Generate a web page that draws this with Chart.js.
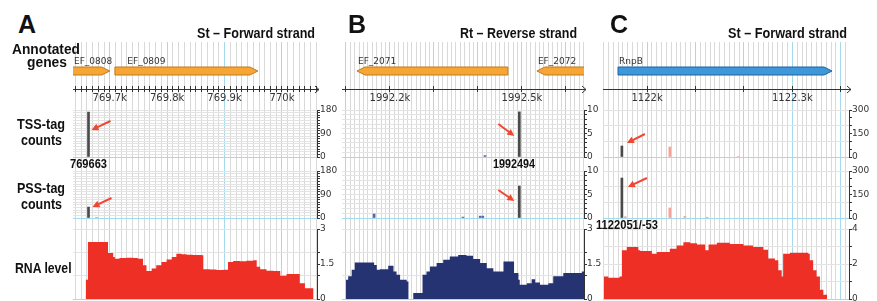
<!DOCTYPE html>
<html><head><meta charset="utf-8">
<script src="https://cdn.jsdelivr.net/npm/chart.js@4.4.1/dist/chart.umd.min.js"></script>
<style>
html,body{margin:0;padding:0;background:#fff;overflow:hidden;width:877px;height:301px;}
#root{position:relative;width:877px;height:301px;overflow:hidden;background:#fff;}
canvas{position:absolute;}
.t{position:absolute;white-space:nowrap;font-family:"Liberation Sans",Arial,sans-serif;font-weight:bold;color:#111;transform-origin:0 0;}
</style></head><body><div id="root"></div>
<script>
// ================= DATA =================
const panelLetters = ['A', 'B', 'C'];
const panelTitles = ['St \u2013 Forward strand', 'Rt \u2013 Reverse strand', 'St \u2013 Forward strand'];
const trackLabelLines = ['Annotated', 'genes', 'TSS-tag', 'counts', 'PSS-tag', 'counts', 'RNA level'];
const siteLabels = ['769663', '1992494', '1122051/-53'];

// visible genomic windows
const rangeA = [769636, 770061];
const rangeB = [1992091, 1992641];
const rangeC = [1121909, 1122417];

// ruler tick labels
const rulerLabelsA = [769700, 769800, 769900, 770000];
const rulerLabelsB = [1992200, 1992500];
const rulerLabelsC = [1122000, 1122300];

// annotated genes
const geneNamesA = ['EF_0808', 'EF_0809'];
const geneStartsA = [769400, 769709];
const geneEndsA = [769700, 769958];
const geneStrandsA = ['+', '+'];
const geneNamesB = ['EF_2071', 'EF_2072'];
const geneStartsB = [1992125, 1992534];
const geneEndsB = [1992468, 1992800];
const geneStrandsB = ['-', '-'];
const geneNamesC = ['RnpB'];
const geneStartsC = [1121940];
const geneEndsC = [1122382];
const geneStrandsC = ['+'];

// TSS / PSS tag counts
const tssPosA = [769663];
const tssValA = [172];
const pssPosA = [769663, 769677];
const pssValA = [42, 2];
const tssPosB = [1992416, 1992494];
const tssValB = [0.3, 9.6];
const pssPosB = [1992164, 1992366, 1992405, 1992411, 1992494];
const pssValB = [0.85, 0.2, 0.4, 0.4, 6.8];
const tssPosC = [1121948, 1122047, 1122188];
const tssValC = [70, 64, 3];
const pssPosC = [1121948, 1121955, 1122047, 1122078, 1122124];
const pssValC = [255, 8, 64, 10, 5];

// count axis tick labels
const countLabelsA = [0, 90, 180];
const countLabelsB = [0, 5, 10];
const countLabelsC = [0, 150, 300];

// RNA level profiles (value holds from position to next position)
const rnaPosA = [769658, 769662, 769697, 769706, 769709, 769717, 769729, 769741, 769749, 769758, 769764, 769773, 769781, 769790, 769799, 769808, 769816, 769825, 769834, 769845, 769860, 769863, 769874, 769886, 769898, 769906, 769915, 769927, 769938, 769950, 769956, 769962, 769973, 769985, 769997, 770008, 770020, 770031, 770040, 770055];
const rnaValA = [0.82, 2.44, 1.97, 1.80, 1.73, 1.76, 1.77, 1.76, 1.73, 1.45, 1.20, 1.31, 1.45, 1.59, 1.69, 1.80, 1.94, 1.92, 1.90, 1.89, 1.87, 1.27, 1.26, 1.24, 1.25, 1.59, 1.63, 1.62, 1.64, 1.66, 1.38, 1.27, 1.21, 1.20, 1.00, 1.07, 1.07, 0.68, 0.46, 0];
const rnaPosB = [1992100, 1992105, 1992113, 1992120, 1992164, 1992170, 1992177, 1992196, 1992208, 1992215, 1992223, 1992238, 1992242, 1992253, 1992274, 1992283, 1992291, 1992306, 1992321, 1992336, 1992355, 1992374, 1992389, 1992405, 1992420, 1992435, 1992458, 1992482, 1992492, 1992495, 1992511, 1992522, 1992530, 1992541, 1992560, 1992571, 1992594, 1992617, 1992636, 1992641];
const rnaValB = [0.82, 0.97, 1.25, 1.56, 1.46, 1.25, 1.28, 1.42, 1.18, 1.04, 0.82, 0.75, 0, 0.26, 1.04, 1.18, 1.39, 1.54, 1.68, 1.82, 1.89, 1.85, 1.71, 1.54, 1.32, 1.18, 1.61, 1.11, 0.82, 0.61, 0.68, 0.85, 0.71, 0.61, 0.68, 0.97, 1.11, 1.11, 1.18, 1.18];
const rnaPosC = [1121911, 1121920, 1121943, 1121948, 1121958, 1121982, 1121986, 1122010, 1122020, 1122047, 1122061, 1122075, 1122089, 1122103, 1122120, 1122127, 1122144, 1122171, 1122199, 1122219, 1122240, 1122250, 1122264, 1122271, 1122278, 1122281, 1122295, 1122333, 1122336, 1122343, 1122350, 1122357, 1122364, 1122372];
const rnaValC = [1.28, 1.22, 1.28, 2.78, 2.97, 2.78, 2.74, 2.59, 2.69, 2.87, 3.06, 3.25, 3.19, 3.12, 2.78, 3.12, 3.21, 3.15, 3.06, 2.97, 2.82, 2.31, 2.22, 1.65, 1.28, 2.59, 2.65, 2.59, 2.22, 1.65, 1.28, 0.53, 0.24, 0];
const rnaLabelsA = [0, 1.5, 3];
const rnaLabelsB = [0, 1.5, 3];
const rnaLabelsC = [0, 2, 4];

// ================= STYLE / LAYOUT =================
const BLUE = '#a4d9ee', VGRAY = '#d9d9d9', HGRAY = '#e3e3e3', AXIS = '#333', NONE = 'rgba(0,0,0,0)';
const TICKFONT = {family: 'DejaVu Sans', size: 9};
const root = document.getElementById('root');

const panels = [
  {left: 73, width: 244, range: rangeA, rulerStep: 10, rulerLabels: rulerLabelsA,
   genes: [geneNamesA, geneStartsA, geneEndsA, geneStrandsA], geneFill: '#f7a535', geneStroke: '#c07a1c',
   tss: [tssPosA, tssValA], pss: [pssPosA, pssValA], countMax: 180, countStep: 10, countGrid: 10, countLabels: countLabelsA, minor: '#f07c72',
   rna: [rnaPosA, rnaValA], rnaMax: 3, rnaStep: 0.5, rnaMarks: [0, 1, 1.5, 2, 3], rnaLabels: rnaLabelsA, rnaColor: '#ee2f25',
   tssArrow: [3, 20, 22, 11], pssArrow: [4, 36, 23, 27]},
  {left: 342, width: 242, range: rangeB, rulerStep: 100, rulerLabels: rulerLabelsB,
   genes: [geneNamesB, geneStartsB, geneEndsB, geneStrandsB], geneFill: '#f7a535', geneStroke: '#c07a1c',
   tss: [tssPosB, tssValB], pss: [pssPosB, pssValB], countMax: 10, countStep: 1, countGrid: 1, countLabels: countLabelsB, minor: '#5566aa',
   rna: [rnaPosB, rnaValB], rnaMax: 3, rnaStep: 0.5, rnaMarks: [0, 1, 1.5, 2, 3], rnaLabels: rnaLabelsB, rnaColor: '#253372',
   tssArrow: [-5, 26, -21, 14], pssArrow: [-5, 30, -21, 19]},
  {left: 603, width: 246, range: rangeC, rulerStep: 100, rulerLabels: rulerLabelsC,
   genes: [geneNamesC, geneStartsC, geneEndsC, geneStrandsC], geneFill: '#3d97d9', geneStroke: '#1f63a0',
   tss: [tssPosC, tssValC], pss: [pssPosC, pssValC], countMax: 300, countStep: 50, countGrid: 100, countLabels: countLabelsC, minor: '#f5a399',
   rna: [rnaPosC, rnaValC], rnaMax: 4, rnaStep: 1, rnaMarks: [0, 1, 2, 3, 4], rnaLabels: rnaLabelsC, rnaColor: '#ee2f25',
   tssArrow: [5, 33, 23, 24], pssArrow: [6, 16, 25, 7]}
];

const TSS_TOP = 110, PSS_TOP = 171, COUNT_H = 47, RNA_TOP = 229, RNA_H = 70;

function stepTicks(lo, hi, step) {
  const out = [];
  const s = Math.ceil(lo / step - 1e-9), e = Math.floor(hi / step + 1e-9);
  for (let i = s; i <= e; i++) out.push(Math.round(i * step * 1000) / 1000);
  return out;
}
function mkCanvas(left, top, w, h) {
  const c = document.createElement('canvas');
  c.width = w; c.height = h;
  c.style.left = left + 'px'; c.style.top = top + 'px';
  c.style.width = w + 'px'; c.style.height = h + 'px';
  root.appendChild(c);
  return c;
}
const base = {animation: false, responsive: false, maintainAspectRatio: false, devicePixelRatio: 1, events: []};
const noPlug = {legend: {display: false}, tooltip: {enabled: false}};

// ---- plugins ----
const geneArrows = {
  id: 'geneArrows',
  afterDatasetsDraw(chart, args, opts) {
    const ctx = chart.ctx, ca = chart.chartArea;
    const meta = chart.getDatasetMeta(0);
    const ds = chart.data.datasets[0];
    const boxes = [];
    ctx.save();
    ctx.beginPath(); ctx.rect(ca.left, ca.top, ca.right - ca.left, ca.bottom - ca.top); ctx.clip();
    meta.data.forEach((el, i) => {
      const p = el.getProps(['x', 'base', 'y', 'height'], true);
      const l = Math.min(p.x, p.base), r = Math.max(p.x, p.base), y = p.y, h = p.height / 2, a = 8;
      ctx.beginPath();
      if (ds.strands[i] === '+') {
        ctx.moveTo(l, y - h); ctx.lineTo(r - a, y - h); ctx.lineTo(r, y); ctx.lineTo(r - a, y + h); ctx.lineTo(l, y + h);
      } else {
        ctx.moveTo(l, y); ctx.lineTo(l + a, y - h); ctx.lineTo(r, y - h); ctx.lineTo(r, y + h); ctx.lineTo(l + a, y + h);
      }
      ctx.closePath();
      ctx.fillStyle = opts.fill; ctx.fill();
      ctx.strokeStyle = opts.stroke; ctx.lineWidth = 1; ctx.stroke();
      boxes.push([l, y - h]);
    });
    ctx.restore();
    ctx.save();
    ctx.font = '9px "DejaVu Sans"'; ctx.fillStyle = '#333'; ctx.textBaseline = 'alphabetic';
    let prevEnd = -Infinity;
    boxes.forEach(([l, t], i) => {
      let x = Math.max(l, ca.left) + 1;
      if (x < prevEnd + 12) x = prevEnd + 15;
      ctx.fillText(ds.names[i], x, t - 3);
      prevEnd = x + ctx.measureText(ds.names[i]).width;
    });
    ctx.restore();
  }
};
const rulerArrow = {
  id: 'rulerArrow',
  afterDraw(chart) {
    const ctx = chart.ctx, ca = chart.chartArea;
    const y = Math.round(ca.bottom) + 0.5, r = ca.right + 2;
    ctx.save(); ctx.strokeStyle = AXIS; ctx.lineWidth = 1;
    ctx.beginPath(); ctx.moveTo(ca.right, y); ctx.lineTo(r, y);
    ctx.moveTo(r - 4, y - 3.5); ctx.lineTo(r, y); ctx.lineTo(r - 4, y + 3.5);
    ctx.stroke(); ctx.restore();
  }
};
const redArrow = {
  id: 'redArrow',
  afterDatasetsDraw(chart, args, opts) {
    const spec = opts.spec; if (!spec) return;
    const meta = chart.getDatasetMeta(0);
    const vals = chart.data.datasets[0].data.map(d => d.y);
    const k = vals.indexOf(Math.max(...vals));
    const bx = meta.data[k].x, top = chart.chartArea.top;
    const hx = bx + spec[0], hy = top + spec[1], tx = bx + spec[2], ty = top + spec[3];
    const ang = Math.atan2(hy - ty, hx - tx), L = 7, W = 3.5;
    const c = Math.cos(ang), s = Math.sin(ang);
    const ctx = chart.ctx; ctx.save();
    ctx.strokeStyle = ctx.fillStyle = '#ef4733'; ctx.lineWidth = 2;
    ctx.beginPath(); ctx.moveTo(tx, ty); ctx.lineTo(hx - L * 0.7 * c, hy - L * 0.7 * s); ctx.stroke();
    ctx.beginPath(); ctx.moveTo(hx, hy);
    ctx.lineTo(hx - L * c + W * s, hy - L * s - W * c);
    ctx.lineTo(hx - L * c - W * s, hy - L * s + W * c);
    ctx.closePath(); ctx.fill();
    ctx.restore();
  }
};

function xHidden(p) {
  return {type: 'linear', min: p.range[0], max: p.range[1], display: false, offset: false, grid: {offset: false}};
}

// ---- charts ----
panels.forEach((p, pi) => {
  // background vertical grid
  new Chart(mkCanvas(p.left, 42, p.width, 258), {
    type: 'scatter', data: {datasets: []},
    options: {...base, layout: {padding: 0}, plugins: noPlug, scales: {
      x: {type: 'linear', min: p.range[0], max: p.range[1],
          afterBuildTicks: s => { s.ticks = stepTicks(p.range[0], p.range[1], 10).map(v => ({value: v})); },
          afterFit: s => { s.height = 0; },
          ticks: {display: false}, border: {display: false},
          grid: {drawTicks: false, lineWidth: 1, color: c => (c.tick && Math.round(c.tick.value) % 100 === 0) ? BLUE : VGRAY}},
      y: {display: false, min: 0, max: 1}
    }}
  });

  // annotated genes
  const [gn, gs, ge, gst] = p.genes;
  new Chart(mkCanvas(p.left, 51, p.width, 40), {
    type: 'bar',
    data: {labels: ['genes'], datasets: [{
      data: gs.map((s, i) => ({x: [s, ge[i]], y: 'genes'})),
      names: gn, strands: gst,
      backgroundColor: NONE, borderWidth: 0, barThickness: 8
    }]},
    options: {...base, indexAxis: 'y', layout: {padding: 0},
      plugins: {...noPlug, geneArrows: {fill: p.geneFill, stroke: p.geneStroke}},
      scales: {x: xHidden(p), y: {type: 'category', display: false}}},
    plugins: [geneArrows]
  });

  // ruler
  new Chart(mkCanvas(p.left, 80, p.width + 8, 25), {
    type: 'scatter', data: {datasets: []},
    options: {...base, layout: {padding: {top: 6, right: 8, left: 0, bottom: 0}}, plugins: noPlug, scales: {
      x: {type: 'linear', min: p.range[0], max: p.range[1], position: 'bottom',
          afterBuildTicks: s => { s.ticks = stepTicks(p.range[0], p.range[1], p.rulerStep).map(v => ({value: v})); },
          afterFit: s => { s.height = 16; },
          ticks: {autoSkip: false, maxRotation: 0, minRotation: 0, padding: 0, color: '#333',
                  font: {family: 'DejaVu Sans', size: 10},
                  callback: v => p.rulerLabels.includes(Math.round(v)) ? (Math.round(v) / 1000) + 'k' : ''},
          border: {display: true, color: AXIS, width: 1},
          grid: {drawOnChartArea: true, drawTicks: true, tickLength: 3, color: AXIS, tickColor: AXIS, lineWidth: 1}},
      y: {display: false, min: 0, max: 1}
    }},
    plugins: [rulerArrow]
  });

  // TSS / PSS counts
  [[p.tss, TSS_TOP, p.tssArrow], [p.pss, PSS_TOP, p.pssArrow]].forEach(([series, top, arrow]) => {
    const [pos, val] = series;
    const mx = Math.max(...val);
    const pad = 8;
    new Chart(mkCanvas(p.left, top - pad, p.width + 26, COUNT_H + 2 * pad), {
      type: 'bar',
      data: {datasets: [{
        data: pos.map((x, i) => ({x: x, y: val[i]})),
        backgroundColor: val.map(v => v === mx ? '#4a4a4a' : p.minor),
        borderWidth: 0, barThickness: 2
      }]},
      options: {...base, layout: {padding: {top: pad, bottom: pad, left: 0, right: 0}},
        plugins: {...noPlug, redArrow: {spec: arrow}},
        scales: {
          x: xHidden(p),
          y: {type: 'linear', position: 'right', min: 0, max: p.countMax,
              afterBuildTicks: s => { s.ticks = stepTicks(0, p.countMax, p.countStep).map(v => ({value: v})); },
              afterFit: s => { s.width = 26; },
              ticks: {autoSkip: false, padding: 0, color: '#333', font: TICKFONT,
                      callback: v => p.countLabels.includes(v) ? String(v) : ''},
              border: {color: AXIS, width: 1},
              grid: {tickLength: 3, tickColor: AXIS, lineWidth: 1,
                     color: c => c.tick.value === 0 ? BLUE : (Math.round(c.tick.value) % p.countGrid === 0 ? HGRAY : NONE)}}
        }},
      plugins: [redArrow]
    });
  });

  // RNA level
  const [rp, rv] = p.rna;
  new Chart(mkCanvas(p.left, RNA_TOP - 8, p.width + 26, RNA_H + 16), {
    type: 'line',
    data: {datasets: [{
      data: rp.map((x, i) => ({x: x, y: rv[i]})),
      stepped: 'before', fill: 'origin', backgroundColor: p.rnaColor, borderColor: p.rnaColor,
      borderWidth: 0, pointRadius: 0, tension: 0
    }]},
    options: {...base, layout: {padding: {top: 8, bottom: 8, left: 0, right: 0}}, plugins: noPlug,
      scales: {
        x: xHidden(p),
        y: {type: 'linear', position: 'right', min: 0, max: p.rnaMax,
            afterBuildTicks: s => { s.ticks = stepTicks(0, p.rnaMax, p.rnaStep).map(v => ({value: v})); },
            afterFit: s => { s.width = 26; },
            ticks: {autoSkip: false, padding: 0, color: '#333', font: TICKFONT,
                    callback: v => p.rnaLabels.includes(v) ? String(v) : ''},
            border: {color: AXIS, width: 1},
            grid: {tickLength: 3, lineWidth: 1,
                   tickColor: c => p.rnaMarks.includes(c.tick.value) ? AXIS : NONE,
                   color: c => c.tick.value === 0 ? BLUE : (Number.isInteger(c.tick.value) ? HGRAY : NONE)}}
      }}
  });
});

// ---- text labels ----
const mctx = document.createElement('canvas').getContext('2d');
function addText(txt, left, baseline, size, width) {
  const font = 'bold ' + size + 'px "Liberation Sans", Arial, sans-serif';
  mctx.font = font;
  const w = mctx.measureText(txt).width;
  const s = width ? width / w : 1;
  const d = document.createElement('div');
  d.className = 't'; d.textContent = txt;
  d.style.font = font; d.style.lineHeight = size + 'px';
  d.style.left = left + 'px'; d.style.top = (baseline - 0.8465 * size) + 'px';
  d.style.transform = 'scaleX(' + s.toFixed(4) + ')';
  root.appendChild(d);
}
const letterBoxes = [[18, 33], [348, 33], [610, 33]];
panelLetters.forEach((t, i) => addText(t, letterBoxes[i][0], letterBoxes[i][1], 25, 0));
const titleBoxes = [[197, 118], [460, 117], [728, 119]];
panelTitles.forEach((t, i) => addText(t, titleBoxes[i][0], 38, 14, titleBoxes[i][1]));
const trackBoxes = [[12, 68, 54], [27, 40, 67], [17, 48, 129], [21, 41, 145], [17, 48, 193], [21, 41, 209], [15, 57, 273]];
trackLabelLines.forEach((t, i) => addText(t, trackBoxes[i][0], trackBoxes[i][2], 15, trackBoxes[i][1]));
const siteBoxes = [[70, 37, 168], [493, 42, 168], [596, 62, 229]];
siteLabels.forEach((t, i) => addText(t, siteBoxes[i][0], siteBoxes[i][2], 12, siteBoxes[i][1]));
</script>
</body></html>
